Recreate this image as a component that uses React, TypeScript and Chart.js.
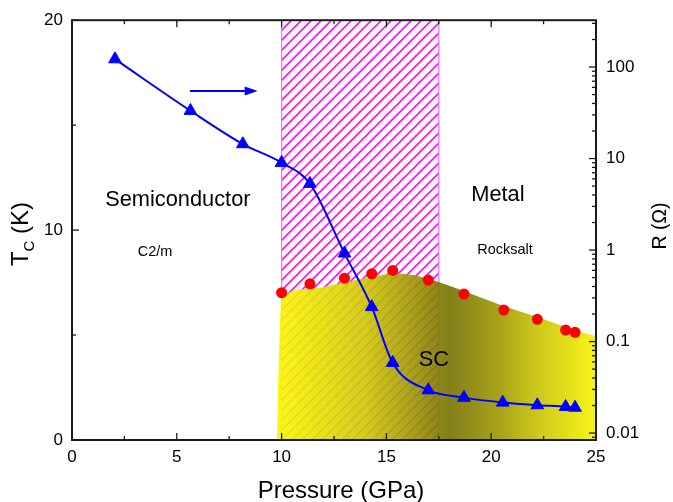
import React, { useEffect, useRef } from 'react';
import { Chart, registerables } from 'chart.js';

Chart.register(...registerables);

// ---- data ----
const tcPressure = [10.0, 11.35, 13.0, 14.3, 15.3, 17.0, 18.7, 20.6, 22.2, 23.55, 24.0];
const tcValues = [7.02, 7.44, 7.71, 7.92, 8.08, 7.62, 6.95, 6.19, 5.75, 5.24, 5.13];

const rPressure = [2.05, 5.65, 8.15, 10.0, 11.35, 13.0, 14.3, 15.3, 17.0, 18.7, 20.55, 22.2, 23.55, 24.0];
const rValues = [122, 33.3, 14.4, 9.0, 5.31, 0.92, 0.239, 0.0587, 0.0294, 0.0244, 0.0216, 0.0202, 0.0194, 0.019];

const scDomePressure = [9.78, 9.86, 10.0, 11.35, 13.0, 14.3, 15.3, 16.1, 17.0, 18.0, 20.5, 22.2, 23.9, 25.0];
const scDomeTc = [0, 3.6, 6.76, 7.21, 7.52, 7.76, 7.92, 7.89, 7.68, 7.35, 6.42, 5.86, 5.27, 4.94];

const transitionRange = [10, 17.5];
const xTickValues = [0, 5, 10, 15, 20, 25];
const tcTickValues = [0, 10, 20];
const rDecades = [0.01, 0.1, 1, 10, 100];

const X_MIN = 0, X_MAX = 25;
const TC_MIN = 0, TC_MAX = 20;
const R_MIN = 0.0084, R_MAX = 325;

const FONT = '"Liberation Sans", Arial, Helvetica, sans-serif';
const AXIS_COLOR = '#1a1a1a';

const hatchPlugin = {
  id: 'hatch',
  beforeDatasetsDraw(chart: any) {
    const { ctx, chartArea, scales } = chart;
    const a = scales.x.getPixelForValue(transitionRange[0]);
    const b = scales.x.getPixelForValue(transitionRange[1]);
    const top = chartArea.top, bottom = chartArea.bottom;
    const h = bottom - top;
    ctx.save();
    ctx.beginPath();
    ctx.rect(a, top, b - a, h);
    ctx.clip();
    ctx.strokeStyle = '#ff00ff';
    ctx.lineWidth = 1.55;
    const spacing = 10;
    for (let x0 = a - h - 20; x0 < b + 20; x0 += spacing) {
      ctx.beginPath();
      ctx.moveTo(x0, bottom);
      ctx.lineTo(x0 + h, top);
      ctx.stroke();
    }
    ctx.restore();
    ctx.save();
    ctx.strokeStyle = '#ff66ff';
    ctx.lineWidth = 1.2;
    [a, b].forEach((x) => {
      ctx.beginPath();
      ctx.moveTo(x, top);
      ctx.lineTo(x, bottom);
      ctx.stroke();
    });
    ctx.restore();
  },
};

const framePlugin = {
  id: 'frame',
  afterDatasetsDraw(chart: any) {
    const { ctx, chartArea, scales } = chart;
    const { left, right, top, bottom } = chartArea;
    ctx.save();
    ctx.strokeStyle = AXIS_COLOR;
    ctx.lineWidth = 1.3;
    const line = (x1: number, y1: number, x2: number, y2: number) => {
      ctx.beginPath();
      ctx.moveTo(x1, y1);
      ctx.lineTo(x2, y2);
      ctx.stroke();
    };
    for (let v = X_MIN; v <= X_MAX + 1e-9; v += 2.5) {
      const px = scales.x.getPixelForValue(v);
      const len = Math.abs(v % 5) < 1e-9 ? 7 : 4;
      line(px, bottom, px, bottom - len);
      line(px, top, px, top + len);
    }
    for (let v = TC_MIN; v <= TC_MAX + 1e-9; v += 5) {
      const py = scales.y.getPixelForValue(v);
      const len = Math.abs(v % 10) < 1e-9 ? 7 : 4;
      line(left, py, left + len, py);
    }
    for (let e = -3; e <= 3; e++) {
      for (let k = 1; k <= 9; k++) {
        const v = k * Math.pow(10, e);
        if (v < R_MIN || v > R_MAX) continue;
        const py = scales.y1.getPixelForValue(v);
        const len = k === 1 ? 7 : 4;
        line(right, py, right - len, py);
      }
    }
    ctx.lineWidth = 2;
    ctx.strokeRect(left, top, right - left, bottom - top);
    ctx.restore();
  },
};

const annotationPlugin = {
  id: 'annotations',
  afterDraw(chart: any) {
    const { ctx, scales } = chart;
    const X = (v: number) => scales.x.getPixelForValue(v);
    const Y = (v: number) => scales.y.getPixelForValue(v);
    ctx.save();
    ctx.fillStyle = '#000';
    ctx.textAlign = 'center';
    ctx.textBaseline = 'alphabetic';
    ctx.font = `21.8px ${FONT}`;
    ctx.fillText('Semiconductor', X(5.05), Y(11.13));
    ctx.fillText('Metal', X(20.32), Y(11.4));
    ctx.fillText('SC', X(17.26), Y(3.53));
    ctx.font = `14.5px ${FONT}`;
    ctx.fillText('C2/m', X(3.96), Y(8.78));
    ctx.fillText('Rocksalt', X(20.66), Y(8.85));

    const ay = Y(16.63);
    const ax1 = X(5.63), ax2 = X(8.86);
    ctx.strokeStyle = '#0000ff';
    ctx.fillStyle = '#0000ff';
    ctx.lineWidth = 2;
    ctx.beginPath();
    ctx.moveTo(ax1, ay);
    ctx.lineTo(ax2 - 10, ay);
    ctx.stroke();
    ctx.beginPath();
    ctx.moveTo(ax2, ay);
    ctx.lineTo(ax2 - 13, ay - 4.5);
    ctx.lineTo(ax2 - 13, ay + 4.5);
    ctx.closePath();
    ctx.fill();

    ctx.fillStyle = '#000';
    ctx.font = `24px ${FONT}`;
    ctx.textAlign = 'center';
    ctx.fillText('Pressure (GPa)', 341, 498);

    // left title: T_C (K)
    ctx.save();
    ctx.translate(28, 234);
    ctx.rotate(-Math.PI / 2);
    ctx.textAlign = 'left';
    const big = `24px ${FONT}`;
    const small = `15px ${FONT}`;
    ctx.font = big;
    const wT = ctx.measureText('T').width;
    ctx.font = small;
    const wC = ctx.measureText('C').width;
    ctx.font = big;
    const wK = ctx.measureText(' (K)').width;
    const total = wT + wC + wK;
    let cx = -total / 2;
    ctx.fillText('T', cx, 0);
    cx += wT;
    ctx.font = small;
    ctx.fillText('C', cx, 6);
    cx += wC;
    ctx.font = big;
    ctx.fillText(' (K)', cx, 0);
    ctx.restore();

    // right title: R (Ω)
    ctx.save();
    ctx.translate(666, 226);
    ctx.rotate(-Math.PI / 2);
    ctx.textAlign = 'center';
    ctx.font = `19.5px ${FONT}`;
    ctx.fillText('R (\u03A9)', 0, 0);
    ctx.restore();
    ctx.restore();
  },
};

export default function App() {
  const canvasRef = useRef<HTMLCanvasElement | null>(null);

  useEffect(() => {
    const canvas = canvasRef.current;
    if (!canvas) return;

    const domeGradient = (context: any) => {
      const chart = context.chart;
      const { chartArea, scales } = chart;
      if (!chartArea) return 'rgba(243,240,0,0.9)';
      const x0 = scales.x.getPixelForValue(10);
      const x1 = scales.x.getPixelForValue(25);
      const g = chart.ctx.createLinearGradient(x0, 0, x1, 0);
      const at = (p: number) => Math.min(1, Math.max(0, (p - 10) / 15));
      g.addColorStop(0, 'rgba(248,246,0,0.9)');
      g.addColorStop(at(14), 'rgba(206,200,4,0.9)');
      g.addColorStop(at(18), 'rgba(118,112,0,0.9)');
      g.addColorStop(at(20.5), 'rgba(160,155,0,0.9)');
      g.addColorStop(at(22.2), 'rgba(200,194,0,0.9)');
      g.addColorStop(1, 'rgba(246,243,0,0.9)');
      return g;
    };

    const chart = new Chart(canvas, {
      type: 'line',
      data: {
        datasets: [
          {
            label: 'Tc',
            type: 'scatter',
            data: tcPressure.map((p, i) => ({ x: p, y: tcValues[i] })),
            yAxisID: 'y',
            pointStyle: 'circle',
            pointRadius: 5.5,
            pointBackgroundColor: '#ff0000',
            pointBorderColor: '#ff0000',
            pointBorderWidth: 0,
            showLine: false,
            order: 1,
          },
          {
            label: 'R',
            type: 'line',
            data: rPressure.map((p, i) => ({ x: p, y: rValues[i] })),
            yAxisID: 'y1',
            borderColor: '#0000ff',
            borderWidth: 2,
            pointStyle: 'triangle',
            pointRadius: 7.3,
            pointBackgroundColor: '#0000ff',
            pointBorderColor: '#0000ff',
            pointBorderWidth: 1,
            cubicInterpolationMode: 'monotone',
            fill: false,
            order: 2,
          },
          {
            label: 'SC dome',
            type: 'line',
            data: scDomePressure.map((p, i) => ({ x: p, y: scDomeTc[i] })),
            yAxisID: 'y',
            borderWidth: 0,
            borderColor: 'rgba(0,0,0,0)',
            pointRadius: 0,
            cubicInterpolationMode: 'monotone',
            fill: 'origin',
            backgroundColor: domeGradient,
            order: 3,
          },
        ],
      },
      options: {
        responsive: false,
        animation: false,
        events: [],
        layout: { padding: { top: 19, left: 0, right: 0, bottom: 0 } },
        plugins: {
          legend: { display: false },
          tooltip: { enabled: false },
          title: { display: false },
        },
        scales: {
          x: {
            type: 'linear',
            position: 'bottom',
            min: X_MIN,
            max: X_MAX,
            afterBuildTicks: (scale: any) => {
              scale.ticks = xTickValues.map((v) => ({ value: v }));
            },
            ticks: {
              color: '#000',
              font: { family: FONT, size: 17 },
              padding: 7,
              maxRotation: 0,
              autoSkip: false,
            },
            grid: { display: false, drawTicks: false },
            border: { display: false },
            afterFit: (scale: any) => {
              scale.height = 62;
            },
          },
          y: {
            type: 'linear',
            position: 'left',
            min: TC_MIN,
            max: TC_MAX,
            afterBuildTicks: (scale: any) => {
              scale.ticks = tcTickValues.map((v) => ({ value: v }));
            },
            ticks: {
              color: '#000',
              font: { family: FONT, size: 17 },
              padding: 9,
              autoSkip: false,
            },
            grid: { display: false, drawTicks: false },
            border: { display: false },
            afterFit: (scale: any) => {
              scale.width = 72;
            },
          },
          y1: {
            type: 'logarithmic',
            position: 'right',
            min: R_MIN,
            max: R_MAX,
            afterBuildTicks: (scale: any) => {
              scale.ticks = rDecades.map((v) => ({ value: v, major: true }));
            },
            ticks: {
              color: '#000',
              font: { family: FONT, size: 17 },
              padding: 10,
              autoSkip: false,
              callback: (v: any) => String(v),
            },
            grid: { display: false, drawTicks: false },
            border: { display: false },
            afterFit: (scale: any) => {
              scale.width = 77;
            },
          },
        },
      },
      plugins: [hatchPlugin, framePlugin, annotationPlugin],
    } as any);

    return () => {
      chart.destroy();
    };
  }, []);

  return (
    <div style={{ position: 'absolute', left: 0, top: 0, width: 673, height: 502, background: '#fff' }}>
      <canvas ref={canvasRef} width={673} height={502} style={{ display: 'block', width: 673, height: 502 }} />
    </div>
  );
}
